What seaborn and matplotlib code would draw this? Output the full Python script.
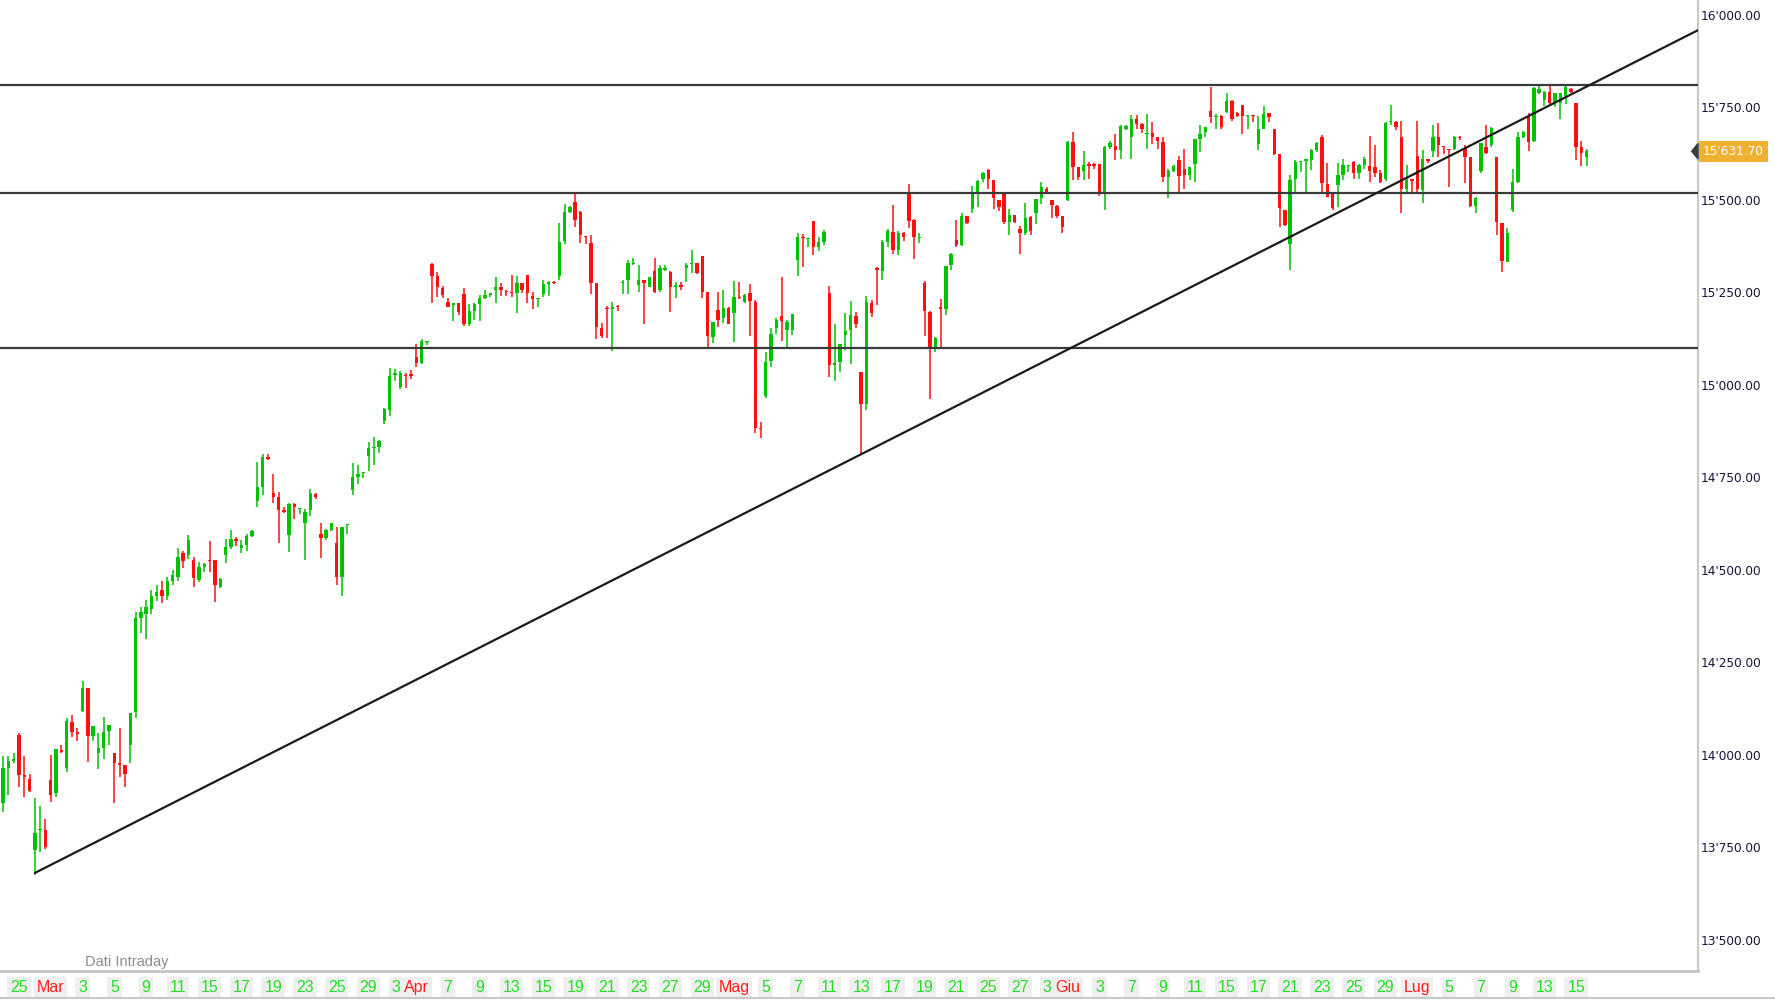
import numpy as np
import pandas as pd
import matplotlib
matplotlib.use("Agg")
import matplotlib.pyplot as plt
from matplotlib.patches import Polygon
from matplotlib.lines import Line2D
import seaborn as sns

# OHLC candles (3 per trading day), 24 Feb -> 15 Jul
opens = [
    13871, 13965, 13983, 14054, 13946, 13935, 13743, 13797, 13797, 13932,
    13896, 14013, 13964, 14090, 14061, 14120, 14180, 14051, 14006, 14018,
    14065, 14004, 13977, 13973, 14027, 14117, 14370, 14380, 14395, 14430,
    14445, 14430, 14470, 14480, 14545, 14540, 14527, 14473, 14507, 14527,
    14527, 14455, 14540, 14563, 14583, 14558, 14567, 14592, 14687, 14725,
    14806, 14709, 14698, 14662, 14594, 14678, 14664, 14628, 14662, 14705,
    14597, 14585, 14608, 14572, 14480, 14622, 14716, 14752, 14761, 14808,
    14829, 14833, 14903, 14932, 15027, 14994, 15027, 15030, 15075, 15060,
    15115, 15327, 15294, 15261, 15225, 15216, 15221, 15247, 15165, 15201,
    15219, 15234, 15243, 15257, 15264, 15255, 15252, 15249, 15275, 15297,
    15240, 15231, 15246, 15273, 15279, 15294, 15390, 15468, 15495, 15468,
    15403, 15383, 15276, 15153, 15207, 15204, 15212, 15276, 15283, 15328,
    15270, 15284, 15265, 15309, 15257, 15312, 15306, 15264, 15270, 15315,
    15327, 15329, 15348, 15252, 15130, 15202, 15180, 15207, 15195, 15237,
    15225, 15248, 15225, 14885, 14970, 15065, 15153, 15186, 15148, 15148,
    15338, 15401, 15394, 15444, 15374, 15387, 15248, 15054, 15063, 15135,
    15149, 15186, 15036, 14948, 15222, 15315, 15309, 15387, 15414, 15366,
    15412, 15518, 15446, 15396, 15275, 15198, 15096, 15211, 15204, 15324,
    15392, 15378, 15457, 15475, 15516, 15558, 15581, 15554, 15500, 15522,
    15441, 15459, 15421, 15410, 15455, 15466, 15504, 15531, 15500, 15483,
    15456, 15501, 15657, 15588, 15579, 15597, 15597, 15597, 15522, 15644,
    15646, 15635, 15693, 15671, 15720, 15705, 15678, 15682, 15669, 15657,
    15563, 15579, 15608, 15585, 15567, 15597, 15666, 15684, 15741, 15723,
    15727, 15738, 15768, 15736, 15756, 15727, 15731, 15651, 15693, 15734,
    15693, 15624, 15473, 15382, 15556, 15603, 15604, 15608, 15635, 15669,
    15543, 15516, 15540, 15567, 15593, 15603, 15572, 15594, 15592, 15590,
    15574, 15556, 15711, 15711, 15669, 15529, 15556, 15619, 15527, 15610,
    15633, 15671, 15646, 15637, 15639, 15671, 15640, 15617, 15484, 15579,
    15644, 15649, 15617, 15439, 15333, 15473, 15549, 15669, 15723, 15660,
    15790, 15770, 15793, 15766, 15763, 15781, 15799, 15763, 15644, 15617,
]
highs = [
    13997, 13997, 14004, 14060, 13997, 13948, 13883, 13862, 13828, 14000,
    14015, 14026, 14099, 14108, 14072, 14201, 14180, 14078, 14060, 14103,
    14081, 14004, 14074, 13973, 14114, 14385, 14400, 14420, 14445, 14460,
    14470, 14480, 14500, 14560, 14550, 14595, 14536, 14522, 14518, 14579,
    14527, 14477, 14583, 14608, 14588, 14581, 14597, 14608, 14793, 14813,
    14813, 14759, 14711, 14671, 14682, 14682, 14666, 14664, 14718, 14707,
    14626, 14610, 14628, 14615, 14617, 14624, 14788, 14784, 14763, 14847,
    14860, 14851, 14939, 15045, 15042, 15039, 15033, 15040, 15112, 15123,
    15120, 15330, 15306, 15267, 15234, 15222, 15222, 15261, 15219, 15222,
    15243, 15257, 15249, 15291, 15276, 15257, 15297, 15294, 15276, 15297,
    15252, 15234, 15285, 15281, 15281, 15439, 15489, 15484, 15516, 15471,
    15403, 15405, 15276, 15168, 15213, 15225, 15216, 15285, 15338, 15342,
    15324, 15284, 15293, 15342, 15324, 15324, 15309, 15279, 15279, 15329,
    15366, 15330, 15348, 15252, 15171, 15252, 15257, 15211, 15282, 15279,
    15246, 15273, 15230, 14901, 15090, 15153, 15180, 15291, 15175, 15193,
    15410, 15408, 15396, 15444, 15399, 15419, 15267, 15166, 15111, 15195,
    15228, 15198, 15036, 15240, 15230, 15320, 15392, 15421, 15486, 15417,
    15414, 15543, 15448, 15412, 15282, 15201, 15129, 15231, 15321, 15356,
    15446, 15464, 15457, 15538, 15554, 15576, 15583, 15554, 15500, 15522,
    15475, 15459, 15430, 15493, 15457, 15502, 15549, 15534, 15501, 15486,
    15456, 15660, 15684, 15588, 15633, 15603, 15599, 15597, 15646, 15660,
    15678, 15702, 15702, 15729, 15729, 15707, 15732, 15711, 15671, 15669,
    15583, 15594, 15619, 15639, 15588, 15666, 15702, 15698, 15804, 15732,
    15729, 15790, 15770, 15738, 15756, 15731, 15731, 15727, 15754, 15736,
    15693, 15624, 15474, 15567, 15608, 15605, 15610, 15637, 15658, 15676,
    15599, 15518, 15599, 15612, 15594, 15606, 15597, 15617, 15673, 15649,
    15581, 15712, 15757, 15714, 15714, 15594, 15556, 15714, 15635, 15610,
    15703, 15709, 15646, 15637, 15673, 15673, 15649, 15617, 15507, 15655,
    15703, 15698, 15617, 15439, 15423, 15583, 15684, 15687, 15736, 15806,
    15808, 15795, 15808, 15790, 15790, 15808, 15802, 15763, 15660, 15637,
]
lows = [
    13846, 13892, 13977, 13914, 13885, 13900, 13675, 13738, 13747, 13874,
    13885, 14004, 13955, 14049, 14038, 14115, 13982, 14038, 13961, 13990,
    14027, 13871, 13941, 13912, 13977, 14100, 14330, 14313, 14380, 14415,
    14410, 14420, 14460, 14470, 14505, 14530, 14455, 14468, 14495, 14495,
    14414, 14450, 14520, 14556, 14565, 14547, 14552, 14590, 14671, 14702,
    14797, 14682, 14572, 14655, 14549, 14639, 14651, 14527, 14646, 14693,
    14531, 14581, 14605, 14459, 14429, 14597, 14702, 14732, 14748, 14768,
    14784, 14817, 14894, 14916, 15012, 14988, 14991, 15015, 15048, 15058,
    15108, 15221, 15239, 15234, 15212, 15174, 15189, 15159, 15159, 15176,
    15174, 15231, 15239, 15221, 15240, 15240, 15239, 15195, 15248, 15221,
    15204, 15212, 15237, 15240, 15273, 15285, 15381, 15466, 15426, 15385,
    15381, 15246, 15123, 15126, 15126, 15093, 15201, 15246, 15246, 15324,
    15252, 15165, 15264, 15249, 15252, 15309, 15198, 15234, 15258, 15279,
    15303, 15300, 15234, 15096, 15114, 15156, 15168, 15165, 15117, 15231,
    15222, 15132, 14871, 14856, 14964, 15049, 15138, 15120, 15103, 15135,
    15294, 15320, 15372, 15351, 15363, 15378, 15022, 15012, 15036, 15094,
    15058, 15153, 14813, 14932, 15185, 15216, 15285, 15372, 15354, 15351,
    15390, 15423, 15340, 15385, 15132, 14961, 15090, 15102, 15189, 15311,
    15372, 15375, 15435, 15466, 15480, 15549, 15529, 15475, 15471, 15435,
    15405, 15439, 15354, 15405, 15405, 15435, 15489, 15518, 15450, 15450,
    15411, 15498, 15554, 15554, 15554, 15558, 15583, 15510, 15473, 15637,
    15608, 15612, 15689, 15612, 15691, 15682, 15637, 15651, 15637, 15549,
    15504, 15576, 15518, 15531, 15555, 15549, 15630, 15671, 15709, 15693,
    15691, 15734, 15714, 15723, 15678, 15691, 15711, 15635, 15691, 15711,
    15621, 15428, 15429, 15312, 15518, 15576, 15518, 15581, 15630, 15522,
    15507, 15473, 15482, 15554, 15576, 15556, 15556, 15585, 15549, 15561,
    15547, 15552, 15702, 15689, 15466, 15518, 15518, 15516, 15493, 15599,
    15617, 15617, 15624, 15536, 15635, 15662, 15547, 15482, 15466, 15572,
    15624, 15642, 15405, 15306, 15333, 15468, 15547, 15667, 15633, 15658,
    15786, 15754, 15759, 15752, 15718, 15759, 15790, 15608, 15592, 15592,
]
closes = [
    13964, 13983, 13990, 13946, 13941, 13903, 13788, 13800, 13752, 13892,
    14015, 14008, 14092, 14063, 14056, 14180, 14051, 14078, 14018, 14063,
    14081, 13977, 13973, 13948, 14114, 14370, 14385, 14400, 14430, 14440,
    14430, 14470, 14485, 14535, 14525, 14580, 14477, 14507, 14515, 14524,
    14459, 14475, 14563, 14583, 14579, 14567, 14592, 14605, 14723, 14804,
    14801, 14698, 14662, 14657, 14678, 14671, 14666, 14657, 14707, 14698,
    14585, 14608, 14626, 14480, 14617, 14624, 14750, 14759, 14763, 14829,
    14833, 14848, 14934, 15024, 15031, 15033, 15024, 15024, 15060, 15120,
    15118, 15294, 15264, 15243, 15212, 15221, 15198, 15166, 15201, 15219,
    15234, 15243, 15248, 15264, 15258, 15252, 15249, 15275, 15258, 15248,
    15231, 15234, 15273, 15279, 15275, 15387, 15468, 15482, 15446, 15405,
    15399, 15276, 15156, 15132, 15204, 15212, 15210, 15279, 15329, 15329,
    15285, 15275, 15293, 15252, 15315, 15315, 15264, 15270, 15266, 15324,
    15329, 15302, 15252, 15132, 15171, 15175, 15207, 15166, 15239, 15234,
    15243, 15228, 14883, 14880, 15063, 15139, 15175, 15174, 15171, 15192,
    15399, 15396, 15396, 15374, 15387, 15414, 15054, 15060, 15111, 15147,
    15189, 15165, 14948, 15225, 15195, 15311, 15387, 15417, 15366, 15412,
    15399, 15444, 15399, 15399, 15201, 15096, 15126, 15204, 15321, 15354,
    15378, 15457, 15437, 15516, 15552, 15574, 15556, 15504, 15482, 15441,
    15459, 15441, 15410, 15450, 15417, 15502, 15534, 15522, 15486, 15456,
    15428, 15657, 15588, 15561, 15594, 15592, 15592, 15522, 15644, 15655,
    15635, 15700, 15700, 15720, 15705, 15693, 15682, 15669, 15660, 15563,
    15579, 15591, 15565, 15567, 15588, 15666, 15678, 15696, 15723, 15726,
    15698, 15768, 15718, 15727, 15727, 15731, 15727, 15693, 15732, 15725,
    15624, 15477, 15432, 15554, 15603, 15605, 15610, 15635, 15653, 15545,
    15509, 15477, 15567, 15594, 15595, 15574, 15594, 15612, 15579, 15574,
    15549, 15709, 15714, 15698, 15531, 15554, 15552, 15529, 15610, 15606,
    15671, 15649, 15642, 15635, 15671, 15667, 15617, 15484, 15504, 15653,
    15628, 15694, 15441, 15336, 15412, 15549, 15669, 15684, 15658, 15802,
    15799, 15792, 15763, 15788, 15790, 15804, 15793, 15644, 15628, 15631.7,
]

# horizontal support / resistance levels and trendline anchors (candle index, price)
levels = [15810, 15518, 15101]
trend_idx = [6, 320]
trend_price = [13681, 15959]

# x axis: trading days and labelled days
holidays = ["2021-04-02", "2021-04-05"]
tick_dates = ["2021-02-25", "2021-03-01", "2021-03-03", "2021-03-05", "2021-03-09",
              "2021-03-11", "2021-03-15", "2021-03-17", "2021-03-19", "2021-03-23",
              "2021-03-25", "2021-03-29", "2021-03-31", "2021-04-01", "2021-04-07",
              "2021-04-09", "2021-04-13", "2021-04-15", "2021-04-19", "2021-04-21",
              "2021-04-23", "2021-04-27", "2021-04-29", "2021-05-03", "2021-05-05",
              "2021-05-07", "2021-05-11", "2021-05-13", "2021-05-17", "2021-05-19",
              "2021-05-21", "2021-05-25", "2021-05-27", "2021-05-31", "2021-06-01",
              "2021-06-03", "2021-06-07", "2021-06-09", "2021-06-11", "2021-06-15",
              "2021-06-17", "2021-06-21", "2021-06-23", "2021-06-25", "2021-06-29",
              "2021-07-01", "2021-07-05", "2021-07-07", "2021-07-09", "2021-07-13",
              "2021-07-15"]
tick_labels = ["25", "Mar", "3", "5", "9", "11", "15", "17", "19", "23", "25", "29", "31",
               "Apr", "7", "9", "13", "15", "19", "21", "23", "27", "29", "Mag", "5", "7",
               "11", "13", "17", "19", "21", "25", "27", "31", "Giu", "3", "7", "9", "11",
               "15", "17", "21", "23", "25", "29", "Lug", "5", "7", "9", "13", "15"]
month_labels = ["Mar", "Apr", "Mag", "Giu", "Lug"]

y_ticks = [13500, 13750, 14000, 14250, 14500, 14750, 15000, 15250, 15500, 15750, 16000]

GREEN = "#00c200"
RED = "#ff1010"
W, H = 1775, 1000
XFONT = ["Liberation Sans Narrow", "Liberation Sans", "DejaVu Sans"]

sns.set_style("white")
plt.rcParams["font.family"] = ["DejaVu Sans"]

fig = plt.figure(figsize=(W / 100, H / 100), dpi=100)
ax = fig.add_axes([0, 29 / H, 1698 / W, 971 / H])

o = np.array(opens, dtype=float)
h = np.array(highs, dtype=float)
l = np.array(lows, dtype=float)
c = np.array(closes, dtype=float)
x = np.arange(len(o))
cols = np.where(c >= o, GREEN, RED)

# candles: wicks + bodies
ax.vlines(x, l, h, colors=cols, linewidth=1.1, zorder=2)
body = np.maximum(np.abs(c - o), 2.5)
ax.bar(x, body, bottom=np.minimum(o, c), width=0.64, color=cols, linewidth=0, zorder=3)

for lv in levels:
    ax.axhline(lv, color="#3a3a3a", linewidth=1.6, zorder=4)
sns.lineplot(x=trend_idx, y=trend_price, color="#1a1a1a", linewidth=1.6, ax=ax, zorder=5)

ax.set_xlim(-0.585, 320.0)
ax.set_ylim(13416, 16040.5)

# y axis on the right
ax.yaxis.tick_right()
ax.set_yticks(y_ticks)
ax.set_yticklabels([f"{v:,.2f}".replace(",", "'") for v in y_ticks])
ax.tick_params(axis="y", length=0, pad=2, labelsize=8.7, labelcolor="#14143a")

# x axis: trading day index * 3 candles
days = pd.bdate_range("2021-02-24", "2021-07-16")
days = days[~days.isin(pd.to_datetime(holidays))]
day_pos = {d.strftime("%Y-%m-%d"): i * 3 for i, d in enumerate(days)}
ax.set_xticks([day_pos[d] for d in tick_dates])
ax.set_xticklabels(tick_labels)
ax.tick_params(axis="x", length=5, width=1, pad=1.2, direction="out")
for tick, lab in zip(ax.xaxis.get_major_ticks(), tick_labels):
    col = "#ff2020" if lab in month_labels else "#22e022"
    tick.tick1line.set_color(col)
    t = tick.label1
    t.set_color(col)
    t.set_fontfamily(XFONT)
    t.set_fontsize(11.5)
    t.set_bbox(dict(boxstyle="square,pad=0.18", fc="#efefef", ec="none"))
    if lab in month_labels:
        t.set_zorder(5)

for side in ["left", "top"]:
    ax.spines[side].set_visible(False)
ax.spines["right"].set_color("#c8c8c8")
ax.spines["right"].set_linewidth(1.5)
ax.spines["bottom"].set_color("#c4c4c4")
ax.spines["bottom"].set_linewidth(2)
ax.set_xlabel("")
ax.set_ylabel("")

# last price tag
last = closes[-1]
ax.text(1.0029, last, f"{last:,.2f}".replace(",", "'"), transform=ax.get_yaxis_transform(),
        ha="left", va="center", fontsize=8.7, color="white", clip_on=False,
        bbox=dict(boxstyle="square,pad=0.35", fc="#f0b030", ec="none"))
ax.add_patch(Polygon([[0.9963, last], [1.0, last + 21], [1.0, last - 21]],
                     closed=True, transform=ax.get_yaxis_transform(),
                     color="#3c3c3c", clip_on=False, zorder=6))

fig.text(85 / W, 1 - 962 / H, "Dati Intraday", color="#8c8c8c", fontsize=10.5,
         va="center", ha="left", family=XFONT)

# window frame line at the bottom
fig.add_artist(Line2D([0, 1], [1 - 997.5 / H, 1 - 997.5 / H], transform=fig.transFigure,
                      color="#c8c8c8", linewidth=1.5))

plt.savefig("out.png", dpi=100)
plt.close()
